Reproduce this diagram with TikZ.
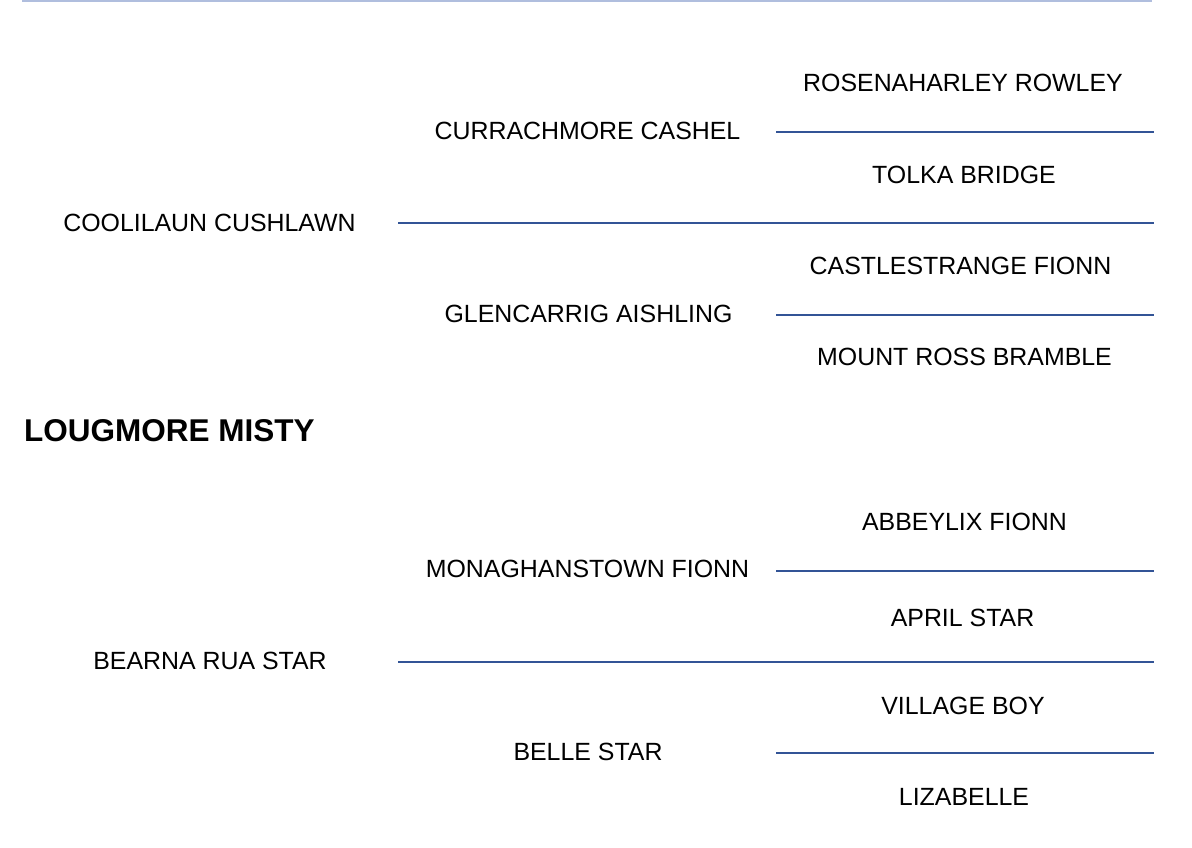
\documentclass[tikz,border=0pt]{standalone}
\usepackage{fontspec}
\setmainfont{Liberation Sans}
\definecolor{lineblue}{RGB}{50,84,150}
\definecolor{toplineblue}{RGB}{176,190,222}
\begin{document}
\begin{tikzpicture}[x=1pt,y=-1pt,
  dogname/.style={inner sep=0pt,font=\fontsize{24.9}{30}\selectfont,text=black},
  dogtitle/.style={inner sep=0pt,font=\fontsize{31.5}{38}\selectfont\bfseries,text=black},
  link/.style={draw=lineblue,line width=1.7pt}]
\useasboundingbox (0,0) rectangle (1192,848);
\fill[white] (0,0) rectangle (1192,848);
% top rule
\coordinate (t1) at (22,0.8);
\coordinate (t2) at (1152,0.8);
\draw[draw=toplineblue,line width=1.6pt] (t1) -- (t2);
% names
\node[dogname] (rr) at (963,83) {ROSENAHARLEY ROWLEY};
\node[dogname] (cc) at (587.5,131) {CURRACHMORE CASHEL};
\node[dogname] (tb) at (964,175) {TOLKA BRIDGE};
\node[dogname] (cl) at (209.5,222.5) {COOLILAUN CUSHLAWN};
\node[dogname] (cf) at (960.5,266) {CASTLESTRANGE FIONN};
\node[dogname] (ga) at (588.5,313.5) {GLENCARRIG AISHLING};
\node[dogname] (mr) at (964.5,357) {MOUNT ROSS BRAMBLE};
\node[dogtitle,anchor=west] (lm) at (24,431) {LOUGMORE MISTY};
\node[dogname] (af) at (964.5,522) {ABBEYLIX FIONN};
\node[dogname] (mf) at (587.5,569) {MONAGHANSTOWN FIONN};
\node[dogname] (as) at (962.5,618) {APRIL STAR};
\node[dogname] (br) at (210,661) {BEARNA RUA STAR};
\node[dogname] (vb) at (963,706) {VILLAGE BOY};
\node[dogname] (bs) at (588,752) {BELLE STAR};
\node[dogname] (lz) at (964,797) {LIZABELLE};
% line coordinates
\coordinate (a1) at (776,132.3); \coordinate (a2) at (1154,132.3);
\coordinate (b0) at (398,223); \coordinate (b1) at (776,223); \coordinate (b2) at (1154,223);
\coordinate (c1) at (776,315); \coordinate (c2) at (1154,315);
\coordinate (d1) at (776,571); \coordinate (d2) at (1154,571);
\coordinate (e0) at (398,662.3); \coordinate (e1) at (776,662.3); \coordinate (e2) at (1154,662.3);
\coordinate (f1) at (776,753); \coordinate (f2) at (1154,753);
\draw[link] (a1) -- (a2);
\draw[link] (b0) -- (b1) -- (b2);
\draw[link] (c1) -- (c2);
\draw[link] (d1) -- (d2);
\draw[link] (e0) -- (e1) -- (e2);
\draw[link] (f1) -- (f2);
\end{tikzpicture}
\end{document}
